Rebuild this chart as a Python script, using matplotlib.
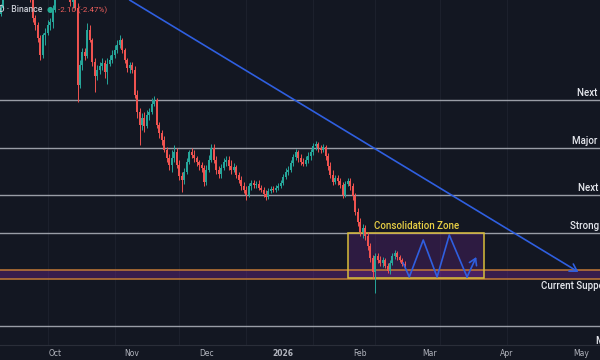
"""
SOL daily chart with consolidation zone / support-resistance levels (dark TradingView look).
Output: out.png (600x360)
"""
import matplotlib
matplotlib.use("Agg")
import matplotlib.pyplot as plt
import matplotlib.dates as mdates
import matplotlib.patches as mpatches
import numpy as np
import pandas as pd

BG = "#131722"
UP = "#26a69a"
DOWN = "#ef5350"
LEVEL = "#b2b5be"
ORANGE = "#c27a36"
YELLOW = "#d8bd3a"
BLUE = "#2f5fe0"
PURPLE = "#8e2bb0"

# ── data ─────────────────────────────────────────────────────
start_date = "2025-09-09"
first_open = 193
closes = [196, 202.5, 207.5, 212.5, 210, 217.5, 220, 215, 222.5, 217.5,
          212.5, 207.5, 201.5, 191, 187.5, 181, 172.5, 182.5, 183.5, 187.5,
          189, 195, 202.5, 207.5, 212.5, 215, 210, 205, 199, 200,
          196, 157.5, 167.5, 174, 172, 185, 180, 169, 162, 165,
          167, 168.5, 164, 168, 170, 172.5, 175, 177.5, 180, 175,
          170, 166, 167.5, 165, 152.5, 144, 137.5, 141, 137, 142.5,
          144, 148, 150, 137.5, 133.5, 130, 125, 121, 117.5, 121,
          124, 117.5, 112, 110, 114, 119, 124, 122.5, 121, 119,
          117.5, 116, 109, 115, 120, 126, 120, 115, 113, 116,
          119, 120, 117, 115, 116.5, 112.5, 110, 107, 105, 102.5,
          107, 108.5, 107.5, 108, 106, 105, 103, 101.5, 104.5, 105.5,
          105, 106, 107, 108.5, 111.5, 114, 115, 118.5, 121.5, 124,
          121, 119, 118, 120, 122, 124, 127, 128, 126, 125,
          126.5, 122, 117, 112.5, 109, 111, 109.5, 107.5, 102.5, 108,
          109.5, 107, 102, 94, 89, 84, 86, 82, 77, 71,
          64, 72, 70, 68.5, 70, 67, 64.5, 68.5, 72, 73.5,
          71.5, 70, 68, 67]
highs = [198, 204, 210, 214, 215, 219, 222.5, 221, 224, 223.5,
         219, 214, 210, 204, 192.5, 189, 182.5, 183.5, 186, 190,
         191, 197.5, 205, 209, 214, 217.5, 216, 211, 207.5, 201.5,
         202.5, 198.5, 170, 176, 176, 188.5, 187.5, 181, 171, 167.5,
         169, 171, 170, 171, 172.5, 175, 177.5, 180, 182.5, 181,
         176, 171, 169, 169, 167, 155, 146, 143.5, 144, 145,
         146, 151, 152, 151, 139, 135, 132, 126.5, 123, 125,
         127.5, 126, 120, 114, 116, 121, 125, 126, 125, 122,
         120, 119, 117.5, 117.5, 122.5, 128, 128, 122, 117, 118,
         121, 122, 122, 120, 118.5, 117.5, 114, 112, 109, 107,
         108.5, 110, 110, 109.5, 110, 107.5, 106.5, 105, 106, 107,
         107, 107.5, 108.5, 110, 113, 116, 117, 120, 123, 125.5,
         125, 123, 121, 122, 124, 125.5, 128.5, 129.5, 129, 127.5,
         128, 127.5, 123.5, 119, 115, 112.5, 112.5, 111, 109, 109.5,
         111, 111, 108.5, 103.5, 96, 91, 88, 87.5, 84, 78.5,
         72.5, 73.5, 73.5, 72, 71.5, 71, 68.5, 70, 73.5, 75,
         74.5, 72.5, 71, 69.5]
lows = [192, 195, 201, 206, 207.5, 209, 216, 213.5, 214, 216,
        211, 206, 199, 189, 185, 179, 170, 171, 177.5, 182.5,
        185, 186, 194, 201, 206, 211, 208.5, 203.5, 197, 196,
        195, 149, 156, 165, 170, 171, 179, 167, 154, 160,
        163, 165, 161, 158, 167, 168.5, 171, 173.5, 176, 173.5,
        168.5, 164, 163.5, 163.5, 151, 141, 127.5, 135, 134, 136,
        140, 143, 147, 136, 131, 127.5, 124, 119, 115, 114,
        119, 116, 110, 104, 108, 113, 118, 121, 119, 117,
        115, 114, 107, 107.5, 114, 119, 118.5, 113, 111, 111,
        115, 117, 115, 113, 114, 111, 108.5, 105, 103.5, 100,
        101.5, 105, 106, 106, 105, 104, 101.5, 100, 100.5, 103.5,
        104, 104, 105, 106, 107.5, 110.5, 112.5, 114, 117, 120,
        119, 117.5, 117, 117, 118.5, 120, 122.5, 125, 124, 123.5,
        124, 120, 115, 111, 107.5, 108, 107.5, 106, 101, 101.5,
        107, 105, 100, 92.5, 87, 82, 81, 80, 75, 69,
        61, 53.5, 68.5, 67, 66.5, 66, 63.5, 63, 67.5, 70.5,
        70, 69, 67, 66]

# horizontal levels (price)
level_prices = [150, 126, 102.5, 83.5, 37]
level_names = ["Next Resistance", "Major Resistance", "Next Resistance",
               "Strong Resistance", "Major Support"]
support_zone = (60.5, 65)
support_name = "Current Support"

# consolidation box
box_dates = ["2026-01-27 05:00", "2026-03-23 00:00"]
box_prices = (61, 83.5)

# descending trendline
trend_dates = ["2025-10-31 00:00", "2026-04-30 00:00"]
trend_prices = [200, 64]

# projected zig-zag path
zig_dates = ["2026-02-18 07:00", "2026-02-20 19:00", "2026-02-26 10:00",
             "2026-03-04 00:00", "2026-03-08 22:00", "2026-03-16 02:00",
             "2026-03-19 19:00"]
zig_prices = [68.5, 61.5, 80, 61.5, 82.5, 61.5, 71.5]

month_ticks = ["2025-10-01", "2025-11-01", "2025-12-01", "2026-01-01",
               "2026-02-01", "2026-03-01", "2026-04-01", "2026-05-01"]
month_labels = ["Oct", "Nov", "Dec", "2026", "Feb", "Mar", "Apr", "May"]
grid_dates = ["2025-09-28", "2025-10-25", "2025-11-20", "2025-12-17",
              "2026-01-13", "2026-02-07", "2026-03-05", "2026-04-01"]


def dnum(seq):
    return mdates.date2num(pd.to_datetime(seq, format="ISO8601"))


# ── figure ───────────────────────────────────────────────────
fig = plt.figure(figsize=(6, 3.6), dpi=100)
fig.patch.set_facecolor(BG)
ax = fig.add_axes([0, 15 / 360, 1, 345 / 360])
ax.set_facecolor(BG)

dates = pd.date_range(start_date, periods=len(closes), freq="D")
x = mdates.date2num(dates)
c = np.array(closes, dtype=float)
o = np.r_[first_open, c[:-1]]
h = np.array(highs, dtype=float)
l = np.array(lows, dtype=float)
colors = np.where(c >= o, UP, DOWN)

x_left = x[0] - 0.25
ax.set_xlim(x_left, x_left + 600 / 2.48)
ax.set_ylim(27.5, 200)

for gx in dnum(grid_dates):
    ax.axvline(gx, color="#1c202c", lw=0.8, zorder=0)

# levels
for p in level_prices:
    ax.axhline(p, color=LEVEL, lw=1.0, alpha=0.85, zorder=1)

# support zone
ax.axhspan(*support_zone, color=PURPLE, alpha=0.3, lw=0, zorder=1)
for p in support_zone:
    ax.axhline(p, color=ORANGE, lw=1.1, zorder=2)

# consolidation box
bx0, bx1 = dnum(box_dates)
ax.add_patch(mpatches.Rectangle((bx0, box_prices[0]), bx1 - bx0,
                                box_prices[1] - box_prices[0],
                                facecolor=PURPLE, alpha=0.22, lw=0, zorder=1))
ax.add_patch(mpatches.Rectangle((bx0, box_prices[0]), bx1 - bx0,
                                box_prices[1] - box_prices[0],
                                facecolor="none", edgecolor=YELLOW, lw=1.1, zorder=3))

# candles
ax.vlines(x, l, h, colors=colors, lw=0.7, zorder=4)
body = np.abs(c - o)
body = np.where(body < 0.4, 0.4, body)
ax.bar(x, body, bottom=np.minimum(o, c), width=0.78, color=colors,
       edgecolor=colors, lw=0, zorder=5)

# trendline with arrow
tx = dnum(trend_dates)
ax.annotate("", xy=(tx[1], trend_prices[1]), xytext=(tx[0], trend_prices[0]),
            arrowprops=dict(arrowstyle="->,head_length=0.5,head_width=0.3",
                            color=BLUE, lw=1.2, shrinkA=0, shrinkB=0), zorder=6)

# zig-zag projection
zx = dnum(zig_dates)
ax.plot(zx[:-1], zig_prices[:-1], color=BLUE, lw=1.2, zorder=6)
ax.annotate("", xy=(zx[-1], zig_prices[-1]), xytext=(zx[-2], zig_prices[-2]),
            arrowprops=dict(arrowstyle="->,head_length=0.45,head_width=0.28",
                            color=BLUE, lw=1.2, shrinkA=0, shrinkB=0), zorder=6)

# labels
lab_font = dict(family="Roboto", fontsize=7, fontweight="medium", color="#e6e8ee")
ax.text(dnum(["2026-02-06 14:00"])[0], 87, "Consolidation Zone",
        ha="left", va="center", family="Roboto", fontsize=7, fontweight="medium",
        color="#e8cf45", zorder=7)
label_dates = ["2026-04-29 12:00", "2026-04-27 12:00", "2026-04-30 00:00",
               "2026-04-26 16:00", "2026-05-07 00:00"]
label_offsets = [3.4, 3.4, 3.4, 3.4, -7.5]
for lx, p, dy, name in zip(dnum(label_dates), level_prices, label_offsets, level_names):
    ax.text(lx, p + dy, name, ha="left", va="center", zorder=7, **lab_font)
ax.text(dnum(["2026-04-15"])[0], support_zone[0] - 3.6,
        support_name, ha="left", va="center", zorder=7, **lab_font)

# legend (top-left)
fig.text(-0.002, 1 - 10 / 360, "D · Binance", ha="left", va="center",
         family="Roboto", fontsize=6.2, fontweight="medium", color="#c9ccd4")
fig.text(49.5 / 600, 1 - 9.5 / 360, "●", ha="center", va="center",
         fontsize=5.5, color="#22ab94")
fig.text(58 / 600, 1 - 10 / 360, "-2.10 (-2.47%)", ha="left", va="center",
         family="Roboto", fontsize=5.8, color="#f0605d")

# time axis
ax.set_xticks(dnum(month_ticks))
ax.set_xticklabels(month_labels)
ax.tick_params(axis="x", length=0, pad=3, labelsize=5.5, colors="#b2b5be")
ax.get_xticklabels()[3].set_fontweight("bold")
ax.set_yticks([])
for side in ["top", "left", "right"]:
    ax.spines[side].set_visible(False)
ax.spines["bottom"].set_color("#2a2e39")

fig.savefig("out.png", dpi=100, facecolor=BG)
